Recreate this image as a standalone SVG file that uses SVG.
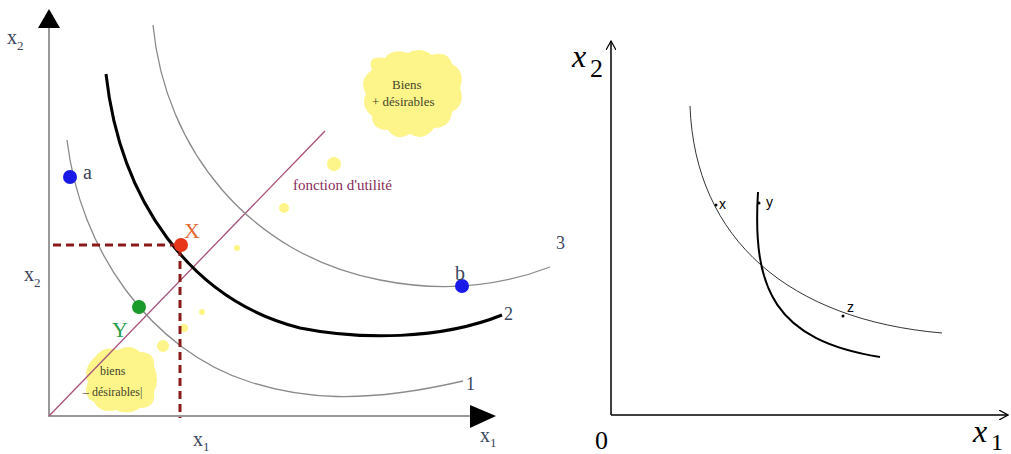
<svg xmlns="http://www.w3.org/2000/svg" width="1011" height="454" viewBox="0 0 1011 454">
<style>
.lab{font-family:"Liberation Serif",serif;fill:#3b4560}
.curve{fill:none;stroke:#8a8a8a;stroke-width:1.3}
.thick{fill:none;stroke:#000;stroke-width:3}
.blob{fill:#fdf58a}
.btext{font-family:"Liberation Serif",serif;fill:#45452a}
.rs{font-family:"Liberation Sans",sans-serif;font-size:14px;fill:#000}
.ri{font-family:"Liberation Serif",serif;fill:#000}
</style>
<defs>
<marker id="open" viewBox="0 0 10 10" refX="9" refY="5" markerWidth="10" markerHeight="10" orient="auto" markerUnits="userSpaceOnUse">
<path d="M0,0 L9,5 L0,10" fill="none" stroke="#000" stroke-width="1.2"/>
</marker>
</defs>
<rect width="1011" height="454" fill="#fff"/>

<g id="left-axes">
<line x1="49" y1="417" x2="49" y2="26" stroke="#999" stroke-width="2"/>
<polygon points="38,28 49,9 60,28" fill="#000"/>
<line x1="48" y1="416" x2="472" y2="416" stroke="#999" stroke-width="2"/>
<polygon points="470,405 496,416 470,428" fill="#000"/>
<text class="lab" x="7" y="44" font-size="20">x<tspan font-size="13" dy="6">2</tspan></text>
<text class="lab" x="24" y="281" font-size="20">x<tspan font-size="13" dy="6">2</tspan></text>
<text class="lab" x="193" y="446" font-size="20">x<tspan font-size="13" dy="5">1</tspan></text>
<text class="lab" x="480" y="442" font-size="20">x<tspan font-size="13" dy="5">1</tspan></text>
</g>

<g id="blobs">
<path class="blob" d="M372,70 Q366,55 385,58 Q392,48 408,53 Q420,46 432,55 Q448,50 452,64 Q466,72 460,88 Q466,104 452,112 Q450,128 434,128 Q424,142 410,134 Q396,142 388,130 Q372,130 372,116 Q360,106 366,94 Q358,80 372,70 Z"/>
<path class="blob" d="M96,356 Q104,345 118,350 Q130,343 140,352 Q155,352 154,366 Q160,380 154,392 Q156,408 140,408 Q128,416 116,410 Q100,414 94,402 Q82,396 88,382 Q82,368 96,356 Z"/>
<circle class="blob" cx="334" cy="164" r="7"/>
<circle class="blob" cx="284" cy="208" r="5"/>
<circle class="blob" cx="237" cy="248" r="3"/>
<circle class="blob" cx="202" cy="312" r="3"/>
<circle class="blob" cx="184" cy="328" r="4"/>
<circle class="blob" cx="163" cy="346" r="6"/>
<text class="btext" x="392" y="89" font-size="13">Biens</text>
<text class="btext" x="372" y="106" font-size="13">+ désirables</text>
<text class="btext" x="100" y="375" font-size="12">biens</text>
<text class="btext" x="83" y="396" font-size="12">– désirables|</text>
</g>

<g id="utility-line">
<line x1="49" y1="416" x2="325" y2="131" stroke="#a8507a" stroke-width="1.3"/>
<text x="293" y="190" font-family="Liberation Serif,serif" font-size="15" fill="#8a2a5a">fonction d'utilité</text>
</g>

<g id="curves-left">
<path class="curve" d="M67,140 C80,250 150,350 250,382 C300,398 360,405 463,381"/>
<path class="thick" d="M106,74 C120,200 190,300 300,328 C360,340 440,340 502,315"/>
<path class="curve" d="M153,25 C165,150 250,255 380,280 C430,290 490,290 550,267"/>
<text class="lab" x="466" y="390" font-size="18">1</text>
<text class="lab" x="504" y="320" font-size="18">2</text>
<text class="lab" x="556" y="249" font-size="18">3</text>
</g>

<g id="dashes">
<path d="M53,245 H180 V418" fill="none" stroke="#8b1a1a" stroke-width="3" stroke-dasharray="8,5"/>
</g>

<g id="points-left">
<circle cx="181" cy="245" r="7" fill="#e8361a"/>
<text x="184" y="238" font-family="Liberation Serif,serif" font-size="22" fill="#e06a30">X</text>
<circle cx="139" cy="307" r="7" fill="#1a9a2a"/>
<text x="112" y="337" font-family="Liberation Serif,serif" font-size="22" fill="#2aa04a">Y</text>
<circle cx="70" cy="177" r="7" fill="#1a1ae8"/>
<text class="lab" x="83" y="179" font-size="20">a</text>
<circle cx="462" cy="286" r="7" fill="#1a1ae8"/>
<text class="lab" x="455" y="280" font-size="20">b</text>
</g>

<g id="right-axes">
<line x1="611" y1="415" x2="611" y2="41" stroke="#000" stroke-width="1.5" marker-end="url(#open)"/>
<line x1="611" y1="415" x2="1008" y2="415" stroke="#000" stroke-width="1.5" marker-end="url(#open)"/>
<text class="ri" x="572" y="67" font-size="32" font-style="italic">x</text>
<text class="ri" x="590" y="77" font-size="26">2</text>
<text class="ri" x="595" y="449" font-size="26">0</text>
<text class="ri" x="973" y="442" font-size="32" font-style="italic">x</text>
<text class="ri" x="991" y="450" font-size="24">1</text>
</g>

<g id="curves-right">
<path d="M690,106 C695,240 790,320 942,333" fill="none" stroke="#333" stroke-width="1"/>
<path d="M758,192 C752,290 775,340 880,357" fill="none" stroke="#000" stroke-width="2"/>
</g>

<g id="points-right">
<circle cx="716" cy="205" r="1.5" fill="#000"/>
<text class="rs" x="719" y="209">x</text>
<circle cx="759" cy="203" r="1.5" fill="#000"/>
<text class="rs" x="766" y="207">y</text>
<circle cx="843" cy="316" r="1.5" fill="#000"/>
<text class="rs" x="847" y="312">z</text>
</g>
</svg>
